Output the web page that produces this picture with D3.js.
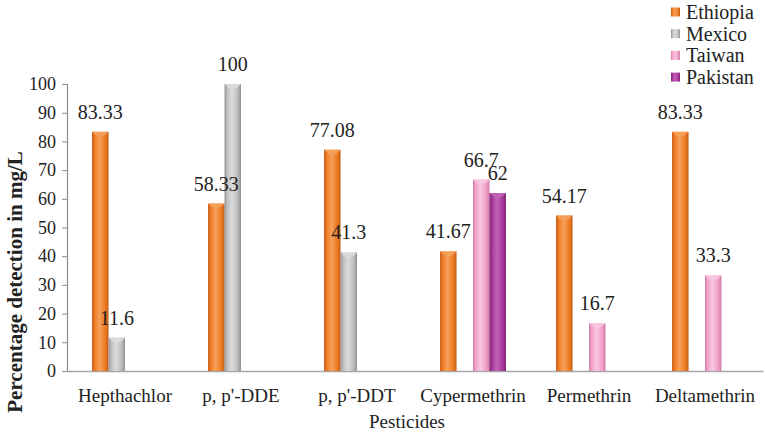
<!DOCTYPE html>
<html lang="en">
<head>
<meta charset="UTF-8">
<title>Pesticides</title>
<script src="https://d3js.org/d3.v7.min.js"></script>
<style>
	body{margin:0;background:#fff}
	svg text{font-family:"Liberation Serif","DejaVu Serif","Times New Roman",serif !important;fill:#222}
</style>
</head>
<body>
<svg id="chart" width="765" height="432"></svg>
<script>
var categories = ["Hepthachlor", "p, p'-DDE", "p, p'-DDT", "Cypermethrin", "Permethrin", "Deltamethrin"]
var seriesNames = ["Ethiopia", "Mexico", "Taiwan", "Pakistan"]
var ethiopia = [83.33, 58.33, 77.08, 41.67, 54.17, 83.33]
var mexico = [11.6, 100, 41.3, null, null, null]
var taiwan = [null, null, null, 66.7, 16.7, 33.3]
var pakistan = [null, null, null, 62, null, null]
var yTicks = [0, 10, 20, 30, 40, 50, 60, 70, 80, 90, 100]

var series = [ethiopia, mexico, taiwan, pakistan]
// base, light, dark
var colors = {
	"Ethiopia": ["#ee7b22", "#f5a05a", "#c25a17"],
	"Mexico": ["#bdbdbd", "#dcdcdc", "#8f8f8f"],
	"Taiwan": ["#f0a0c9", "#f8c6df", "#cf7aa7"],
	"Pakistan": ["#a8379b", "#c163b5", "#7d2373"]
}

var svg = d3.select("#chart")
var margin = {left: 67, right: 2, top: 84, bottom: 61}
var width = 765, height = 432

var x0 = d3.scaleBand().domain(categories).range([margin.left, width - margin.right]).padding(0)
var x1 = d3.scaleBand().domain(seriesNames).range([0, x0.bandwidth()]).paddingInner(0).paddingOuter(1.52)
var y = d3.scaleLinear().domain([0, 100]).range([height - margin.bottom, margin.top])

var defs = svg.append("defs")
seriesNames.forEach(function (s) {
	var c = colors[s]
	var g = defs.append("linearGradient").attr("id", "grad_" + s).attr("x1", "0").attr("x2", "1").attr("y1", "0").attr("y2", "0")
	g.append("stop").attr("offset", "0").attr("stop-color", c[2])
	g.append("stop").attr("offset", "0.15").attr("stop-color", c[0])
	g.append("stop").attr("offset", "0.45").attr("stop-color", c[1])
	g.append("stop").attr("offset", "0.8").attr("stop-color", c[0])
	g.append("stop").attr("offset", "1").attr("stop-color", c[2])
})

// y axis
var yAxis = d3.axisLeft(y).tickValues(yTicks).tickSize(5).tickPadding(6)
var ya = svg.append("g").attr("transform", "translate(" + margin.left + ",0)").call(yAxis)
ya.attr("font-family", null).attr("font-size", null)
ya.select(".domain").attr("stroke", "#8c8c8c").attr("stroke-width", 1.2)
ya.selectAll(".tick line").attr("stroke", "#8c8c8c")
ya.selectAll(".tick text").style("font-size", "18px")

// x axis
var xAxis = d3.axisBottom(x0).tickSize(0).tickPadding(18)
var xa = svg.append("g").attr("transform", "translate(0," + y(0) + ")").call(xAxis)
xa.attr("font-family", null).attr("font-size", null)
xa.select(".domain").attr("stroke", "#a6a6a6").attr("stroke-width", 1.5)
xa.selectAll(".tick text").style("font-size", "19px")

// bars
var bars = []
categories.forEach(function (cat, i) {
	series.forEach(function (vals, j) {
		if (vals[i] != null) bars.push({cat: cat, s: seriesNames[j], v: vals[i]})
	})
})

var bg = svg.append("g")
bg.selectAll("rect.bar").data(bars).enter().append("rect")
	.attr("class", "bar")
	.attr("x", function (d) { return x0(d.cat) + x1(d.s) })
	.attr("y", function (d) { return y(d.v) })
	.attr("width", x1.bandwidth())
	.attr("height", function (d) { return y(0) - y(d.v) })
	.attr("fill", function (d) { return "url(#grad_" + d.s + ")" })

// top bevel
bg.selectAll("path.top").data(bars).enter().append("path")
	.attr("class", "top")
	.attr("d", function (d) {
		var bx = x0(d.cat) + x1(d.s), by = y(d.v), w = x1.bandwidth()
		return "M" + bx + "," + by + "L" + (bx + w) + "," + by + "L" + (bx + w - 3) + "," + (by + 3) +
			"L" + (bx + w / 2) + "," + (by + 6) + "L" + (bx + 3) + "," + (by + 3) + "Z"
	})
	.attr("fill", function (d) { return colors[d.s][1] })
	.attr("opacity", 0.9)

// value labels
svg.append("g").selectAll("text").data(bars).enter().append("text")
	.attr("x", function (d) { return x0(d.cat) + x1(d.s) + x1.bandwidth() / 2 })
	.attr("y", function (d) { return y(d.v) - 13 })
	.attr("text-anchor", "middle")
	.style("font-size", "20px")
	.text(function (d) { return d.v })

// axis titles
svg.append("text")
	.attr("x", x0.range()[0] + (x0.range()[1] - x0.range()[0]) / 2 - 8)
	.attr("y", 428)
	.attr("text-anchor", "middle")
	.style("font-size", "19px")
	.text("Pesticides")

svg.append("text")
	.attr("transform", "translate(22,282) rotate(-90)")
	.attr("text-anchor", "middle")
	.style("font-size", "21px")
	.style("font-weight", "bold")
	.text("Percentage detection in mg/L")

// legend
var lg = svg.append("g").attr("transform", "translate(671,0)")
seriesNames.forEach(function (s, i) {
	var row = lg.append("g").attr("transform", "translate(0," + (12 + i * 21.7) + ")")
	row.append("rect").attr("x", 0).attr("y", -4.5).attr("width", 9).attr("height", 9)
		.attr("fill", "url(#grad_" + s + ")")
	row.append("text").attr("x", 15).attr("y", 7).style("font-size", "20px").text(s)
})
</script>
</body>
</html>
